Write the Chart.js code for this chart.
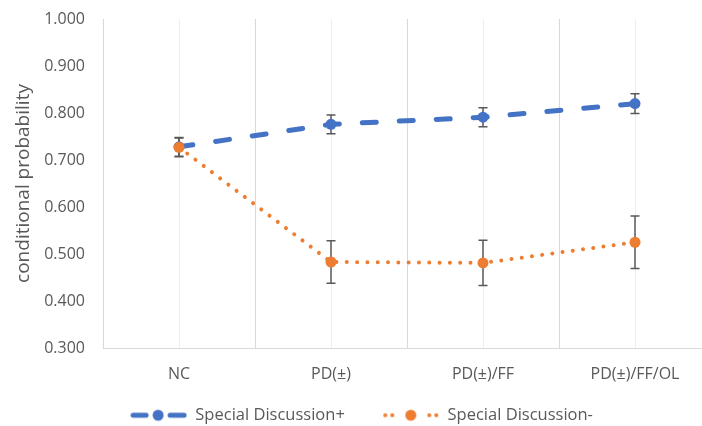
<!DOCTYPE html>
<html>
<head>
<meta charset="utf-8">
<script src="https://cdn.jsdelivr.net/npm/chart.js@4"></script>
<style>
    html, body { margin: 0; padding: 0; overflow: hidden; background: #fff; }
    #wrap { width: 724px; height: 426px; }
</style>
</head>
<body>
<div id="wrap"><canvas id="myChart" width="724" height="426"></canvas></div>
<script>
const categories = ["NC", "PD(±)", "PD(±)/FF", "PD(±)/FF/OL"];
const seriesNames = ["Special Discussion+", "Special Discussion-"];
const plusValues = [0.728, 0.776, 0.791, 0.820];
const plusErrors = [0.020, 0.020, 0.020, 0.021];
const minusValues = [0.727, 0.483, 0.481, 0.525];
const minusErrors = [0.020, 0.045, 0.048, 0.056];
const yMin = 0.3, yMax = 1.0, yStep = 0.1;

const BLUE = "#4472C4";
const ORANGE = "#ED7D31";
const TEXT = "#595959";

// legend glyphs: line sample with marker, like the spreadsheet legend
function makeGlyph(kind) {
    const c = document.createElement("canvas");
    c.width = 57; c.height = 16;
    const g = c.getContext("2d");
    g.lineCap = "round";
    if (kind === "plus") {
        g.strokeStyle = BLUE; g.fillStyle = BLUE; g.lineWidth = 5;
        g.beginPath(); g.moveTo(3, 8); g.lineTo(16, 8); g.moveTo(40, 8); g.lineTo(54, 8); g.stroke();
        g.beginPath(); g.arc(28, 8, 5.5, 0, Math.PI * 2); g.fill();
    } else {
        g.fillStyle = ORANGE;
        [3, 10, 47, 54].forEach(x => { g.beginPath(); g.arc(x, 8, 2, 0, Math.PI * 2); g.fill(); });
        g.beginPath(); g.arc(28.5, 8, 5.5, 0, Math.PI * 2); g.fill();
    }
    return c;
}
const glyphs = [makeGlyph("plus"), makeGlyph("minus")];

const errorBars = {
    id: "errorBars",
    beforeDatasetsDraw(chart) {
        const ctx = chart.ctx;
        const y = chart.scales.y;
        chart.data.datasets.forEach((ds, i) => {
            chart.getDatasetMeta(i).data.forEach((pt, j) => {
                const top = y.getPixelForValue(ds.data[j] + ds.errors[j]);
                const bot = y.getPixelForValue(ds.data[j] - ds.errors[j]);
                ctx.save();
                ctx.strokeStyle = TEXT;
                ctx.lineWidth = 1.5;
                ctx.beginPath();
                ctx.moveTo(pt.x, top); ctx.lineTo(pt.x, bot);
                ctx.moveTo(pt.x - 4.5, top); ctx.lineTo(pt.x + 4.5, top);
                ctx.moveTo(pt.x - 4.5, bot); ctx.lineTo(pt.x + 4.5, bot);
                ctx.stroke();
                ctx.restore();
            });
        });
    }
};

Chart.defaults.font.family = "'Open Sans', sans-serif";
Chart.defaults.font.size = 16;
Chart.defaults.color = TEXT;

const ctx = document.getElementById("myChart").getContext("2d");
new Chart(ctx, {
    type: "line",
    data: {
        labels: categories,
        datasets: [
            {
                label: seriesNames[0],
                data: plusValues,
                errors: plusErrors,
                borderColor: BLUE,
                backgroundColor: BLUE,
                borderWidth: 5,
                borderDash: [14, 23],
                borderCapStyle: "round",
                pointRadius: 5.5,
                pointBorderWidth: 0,
                pointBackgroundColor: BLUE,
                order: 2
            },
            {
                label: seriesNames[1],
                data: minusValues,
                errors: minusErrors,
                borderColor: ORANGE,
                backgroundColor: ORANGE,
                borderWidth: 4,
                borderDash: [0.01, 10.3],
                borderCapStyle: "round",
                pointRadius: 5.5,
                pointBorderWidth: 0,
                pointBackgroundColor: ORANGE,
                order: 1
            }
        ]
    },
    options: {
        responsive: false,
        animation: false,
        layout: { padding: { top: 19, right: 13, bottom: 0, left: 12 } },
        plugins: {
            tooltip: { enabled: false },
            legend: {
                position: "bottom",
                maxHeight: 40,
                labels: {
                    usePointStyle: true,
                    pointStyleWidth: 57,
                    padding: 21,
                    font: { size: 16.5 },
                    generateLabels: chart => chart.data.datasets.map((ds, i) => ({
                        // em space after the first entry widens the gap between entries
                        text: i === 0 ? ds.label + "\u2003" : ds.label,
                        pointStyle: glyphs[i],
                        fontColor: TEXT,
                        fillStyle: "transparent",
                        strokeStyle: "transparent",
                        lineWidth: 0,
                        hidden: false,
                        datasetIndex: i
                    }))
                }
            }
        },
        scales: {
            x: {
                offset: true,
                grid: { offset: true, color: "#D9D9D9", drawTicks: false },
                border: { color: "#D9D9D9" },
                ticks: { padding: 17 },
                afterFit: axis => { axis.height = 38; }
            },
            x2: {
                type: "category",
                labels: categories,
                position: "top",
                offset: true,
                grid: { offset: false, color: "#EEEEEE", drawTicks: false },
                border: { display: false },
                ticks: { display: false },
                afterFit: axis => { axis.height = 0; }
            },
            y: {
                min: yMin,
                max: yMax,
                grid: { display: false, drawTicks: true, tickLength: 9 },
                border: { display: false },
                ticks: {
                    stepSize: yStep,
                    padding: 9,
                    callback: v => v.toFixed(3)
                },
                title: {
                    display: true,
                    text: "conditional probability",
                    font: { size: 19 },
                    padding: { top: 0, bottom: 0 }
                },
                afterFit: axis => { axis.width = 91; }
            }
        }
    },
    plugins: [errorBars]
});
</script>
</body>
</html>
